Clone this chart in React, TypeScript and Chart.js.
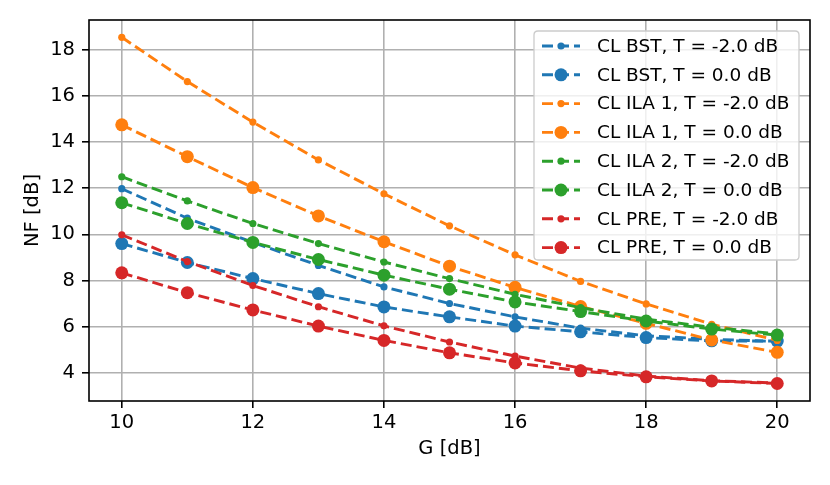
import React, { useEffect, useRef } from 'react';
import { Chart, registerables } from 'chart.js';

Chart.register(...registerables);

// ---- data ----
const G = [10, 11, 12, 13, 14, 15, 16, 17, 18, 19, 20];
const X_TICKS = [10, 12, 14, 16, 18, 20];
const Y_TICKS = [4, 6, 8, 10, 12, 14, 16, 18];

const BST_M2 = [11.98, 10.7, 9.65, 8.65, 7.72, 7.0, 6.42, 5.93, 5.6, 5.45, 5.35];
const BST_0 = [9.6, 8.78, 8.08, 7.43, 6.85, 6.42, 6.02, 5.77, 5.52, 5.38, 5.37];
const ILA1_M2 = [18.55, 16.63, 14.87, 13.23, 11.76, 10.37, 9.11, 7.96, 6.98, 6.1, 5.4];
const ILA1_0 = [14.75, 13.37, 12.03, 10.8, 9.68, 8.62, 7.7, 6.87, 6.14, 5.42, 4.88];
const ILA2_M2 = [12.5, 11.45, 10.47, 9.6, 8.8, 8.08, 7.4, 6.82, 6.32, 5.97, 5.68];
const ILA2_0 = [11.37, 10.47, 9.65, 8.91, 8.23, 7.62, 7.07, 6.65, 6.24, 5.89, 5.63];
const PRE_M2 = [9.98, 8.82, 7.78, 6.86, 6.03, 5.33, 4.72, 4.2, 3.85, 3.65, 3.55];
const PRE_0 = [8.33, 7.47, 6.72, 6.02, 5.4, 4.86, 4.42, 4.08, 3.82, 3.64, 3.53];

const LABELS = [
  'CL BST, T = -2.0 dB',
  'CL BST, T = 0.0 dB',
  'CL ILA 1, T = -2.0 dB',
  'CL ILA 1, T = 0.0 dB',
  'CL ILA 2, T = -2.0 dB',
  'CL ILA 2, T = 0.0 dB',
  'CL PRE, T = -2.0 dB',
  'CL PRE, T = 0.0 dB',
];
const SERIES = [BST_M2, BST_0, ILA1_M2, ILA1_0, ILA2_M2, ILA2_0, PRE_M2, PRE_0];
const X_LABEL = 'G [dB]';
const Y_LABEL = 'NF [dB]';

// ---- styles ----
const COLORS = ['#1f77b4', '#1f77b4', '#ff7f0e', '#ff7f0e', '#2ca02c', '#2ca02c', '#d62728', '#d62728'];
const SMALL_R = 3.6;
const BIG_R = 6.5;
const FONT = 'DejaVu Sans';
const DASH = [11, 5];
const LW = 2.9;
const TICK_FONT = 19.5;
const LEGEND_FONT = 18.5;

const overlayPlugin = {
  id: 'overlay',
  afterDatasetsDraw(chart: any) {
    const { ctx, chartArea: a } = chart;
    ctx.save();
    // frame
    ctx.strokeStyle = '#000';
    ctx.lineWidth = 1.6;
    ctx.setLineDash([]);
    ctx.strokeRect(a.left, a.top, a.right - a.left, a.bottom - a.top);

    // legend
    const bx = 534, by = 31, bw = 265, bh = 229, r = 4;
    ctx.beginPath();
    ctx.moveTo(bx + r, by);
    ctx.lineTo(bx + bw - r, by);
    ctx.quadraticCurveTo(bx + bw, by, bx + bw, by + r);
    ctx.lineTo(bx + bw, by + bh - r);
    ctx.quadraticCurveTo(bx + bw, by + bh, bx + bw - r, by + bh);
    ctx.lineTo(bx + r, by + bh);
    ctx.quadraticCurveTo(bx, by + bh, bx, by + bh - r);
    ctx.lineTo(bx, by + r);
    ctx.quadraticCurveTo(bx, by, bx + r, by);
    ctx.closePath();
    ctx.fillStyle = 'rgba(255,255,255,0.8)';
    ctx.fill();
    ctx.strokeStyle = '#cccccc';
    ctx.lineWidth = 1.3;
    ctx.stroke();

    chart.data.datasets.forEach((ds: any, i: number) => {
      const cy = 46 + i * 28.8;
      ctx.strokeStyle = ds.borderColor;
      ctx.lineWidth = LW;
      ctx.setLineDash(DASH);
      ctx.beginPath();
      ctx.moveTo(542, cy);
      ctx.lineTo(580, cy);
      ctx.stroke();
      ctx.setLineDash([]);
      ctx.fillStyle = ds.borderColor;
      ctx.beginPath();
      ctx.arc(561, cy, ds.pointRadius, 0, Math.PI * 2);
      ctx.fill();
      ctx.fillStyle = '#000';
      ctx.font = `${LEGEND_FONT}px "${FONT}"`;
      ctx.textAlign = 'left';
      ctx.textBaseline = 'middle';
      ctx.fillText(ds.label, 597, cy + 1);
    });

    // axis titles
    ctx.fillStyle = '#000';
    ctx.font = `${TICK_FONT}px "${FONT}"`;
    ctx.textAlign = 'center';
    ctx.textBaseline = 'middle';
    ctx.fillText(X_LABEL, (a.left + a.right) / 2, 449);
    ctx.save();
    ctx.translate(33, (a.top + a.bottom) / 2);
    ctx.rotate(-Math.PI / 2);
    ctx.fillText(Y_LABEL, 0, 0);
    ctx.restore();
    ctx.restore();
  },
};

export default function App() {
  const ref = useRef<HTMLCanvasElement | null>(null);
  useEffect(() => {
    if (!ref.current) return;
    const datasets = SERIES.map((arr, i) => ({
      label: LABELS[i],
      data: G.map((x, j) => ({ x, y: arr[j] })),
      borderColor: COLORS[i],
      backgroundColor: COLORS[i],
      pointBackgroundColor: COLORS[i],
      pointBorderWidth: 0,
      pointRadius: i % 2 === 0 ? SMALL_R : BIG_R,
      borderWidth: LW,
      borderDash: DASH,
      fill: false,
      tension: 0,
      order: SERIES.length - 1 - i,
    }));
    const grid = { color: '#b0b0b0', lineWidth: 1.6, tickColor: '#000', tickLength: 7, tickWidth: 1.6 };
    const chart = new Chart(ref.current, {
      type: 'line',
      data: { datasets },
      plugins: [overlayPlugin],
      options: {
        animation: false,
        responsive: false,
        devicePixelRatio: 1,
        layout: { padding: { top: 20, right: 20, left: 0, bottom: 0 } },
        plugins: { legend: { display: false }, tooltip: { enabled: false } },
        scales: {
          x: {
            type: 'linear',
            min: 9.5,
            max: 20.5,
            afterBuildTicks: (s: any) => {
              s.ticks = X_TICKS.map((v) => ({ value: v }));
            },
            afterFit: (s: any) => {
              s.height = 84;
            },
            grid,
            border: { display: false },
            ticks: { font: { family: FONT, size: TICK_FONT }, color: '#000', padding: 3, maxRotation: 0, callback: (v: any) => String(v) },
          },
          y: {
            type: 'linear',
            min: 2.77,
            max: 19.3,
            afterBuildTicks: (s: any) => {
              s.ticks = Y_TICKS.map((v) => ({ value: v }));
            },
            afterFit: (s: any) => {
              s.width = 89;
            },
            grid,
            border: { display: false },
            ticks: { font: { family: FONT, size: TICK_FONT }, color: '#000', padding: 7, callback: (v: any) => String(v) },
          },
        },
      },
    } as any);
    return () => chart.destroy();
  }, []);
  return (
    <div style={{ position: 'fixed', left: 0, top: 0, width: 830, height: 485, background: '#fff' }}>
      <canvas ref={ref} width={830} height={485} style={{ display: 'block' }} />
    </div>
  );
}
